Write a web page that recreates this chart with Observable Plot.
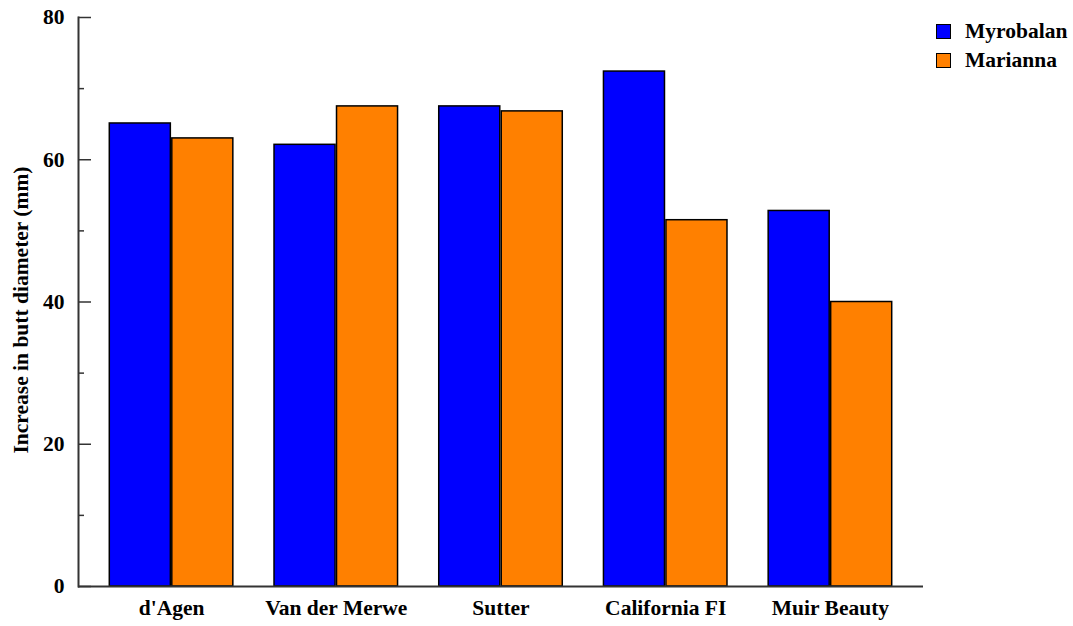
<!DOCTYPE html>
<html>
<head>
<meta charset="utf-8">
<script src="https://cdn.jsdelivr.net/npm/d3@7"></script>
<script src="https://cdn.jsdelivr.net/npm/@observablehq/plot@0.6"></script>
<style>
  body { margin: 0; background: #fff; }
  #wrap { position: relative; width: 1073px; height: 626px; font-family: "Liberation Serif", "Times New Roman", serif; font-weight: bold; }
  #legend { position: absolute; left: 936px; top: 17px; font-size: 21.5px; color: #000; }
  .item { display: flex; align-items: center; height: 28px; margin-bottom: 1px; }
  .sw { width: 13px; height: 13px; border: 1.5px solid #000; margin-right: 14px; }
</style>
</head>
<body>
<div id="wrap"><div id="legend"></div></div>
<script>
const categories = ["d'Agen", "Van der Merwe", "Sutter", "California FI", "Muir Beauty"];
const seriesNames = ["Myrobalan", "Marianna"];
const myrobalan = [65.1, 62.1, 67.5, 72.4, 52.8];
const marianna = [63.0, 67.5, 66.8, 51.5, 40.0];
const colors = ["#0000ff", "#ff8000"];
const majorTicks = [0, 20, 40, 60, 80];
const minorTicks = [10, 30, 50, 70];

const data = categories.map((c, i) => ({cat: c, myro: myrobalan[i], mari: marianna[i]}));

const FONT = '"Liberation Serif", "Times New Roman", serif';

const plot = Plot.plot({
  width: 1073,
  height: 626,
  marginLeft: 78,
  marginRight: 150,
  marginTop: 17,
  marginBottom: 40,
  style: {fontFamily: FONT, fontWeight: "bold", fontSize: "21.5px", color: "#000", background: "#fff"},
  x: {domain: categories, paddingInner: 0.25, paddingOuter: 0.19, round: false, label: null},
  y: {domain: [0, 80], label: null},
  marks: [
    Plot.barY(data, {x: "cat", y: "myro", fill: colors[0], stroke: "#000", strokeWidth: 1.5, insetRight: 62.5}),
    Plot.barY(data, {x: "cat", y: "mari", fill: colors[1], stroke: "#000", strokeWidth: 1.5, insetLeft: 62.5}),
    Plot.axisX({tickSize: 0, tickPadding: 13, fontSize: 21.5, fontFamily: FONT}),
    Plot.axisY(majorTicks, {tickSize: -13, tickPadding: 27, strokeWidth: 1.5, stroke: "#333", fontSize: 21.5, fontFamily: FONT}),
    Plot.axisY(minorTicks, {tickSize: -6, tickFormat: () => "", strokeWidth: 1.5, stroke: "#333"}),
    Plot.ruleY([0], {stroke: "#333", strokeWidth: 2}),
    Plot.frame({anchor: "left", stroke: "#333", strokeWidth: 2})
  ]
});
document.getElementById("wrap").prepend(plot);

// y-axis title
const svg = d3.select(plot);
svg.append("text")
  .attr("transform", "translate(21,310) rotate(-90)")
  .attr("text-anchor", "middle")
  .attr("dominant-baseline", "central")
  .style("font-family", FONT)
  .style("font-size", "21.5px")
  .style("font-weight", "bold")
  .text("Increase in butt diameter (mm)");

const legend = document.getElementById("legend");
seriesNames.forEach((s, i) => {
  const it = document.createElement("div");
  it.className = "item";
  it.innerHTML = `<span class="sw" style="background:${colors[i]}"></span><span>${s}</span>`;
  legend.appendChild(it);
});
</script>
</body>
</html>
